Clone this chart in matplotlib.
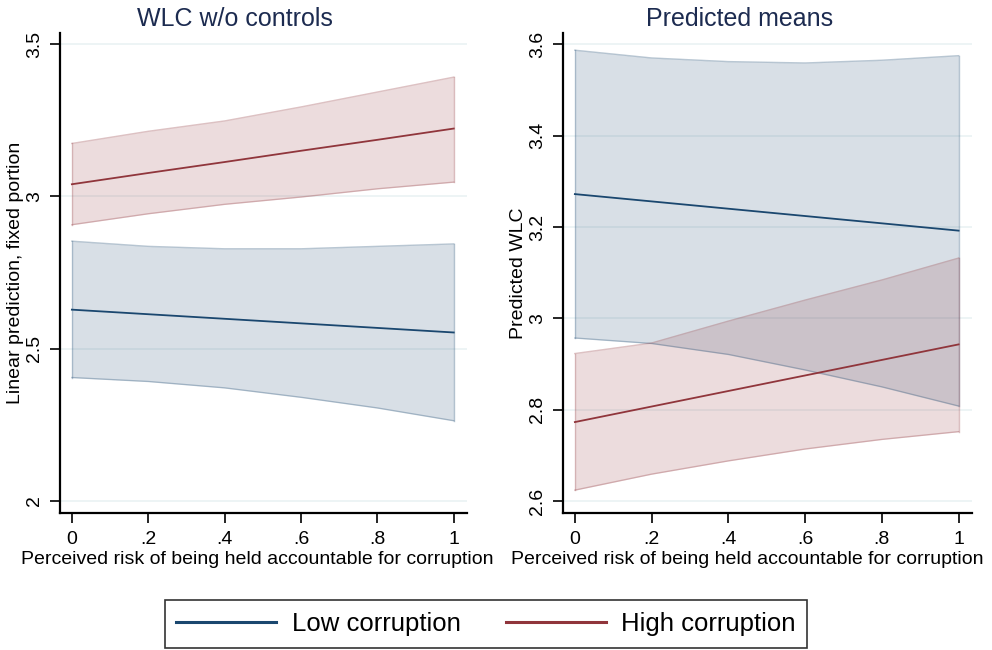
import matplotlib
matplotlib.use("Agg")
import matplotlib.pyplot as plt
from matplotlib.lines import Line2D
import matplotlib.ticker as ticker

plt.rcParams["font.family"] = ["Liberation Sans", "DejaVu Sans"]

# risk grid
risk = [0, 0.2, 0.4, 0.6, 0.8, 1.0]

# left panel: WLC w/o controls (linear prediction, fixed portion)
low_fit_l = [2.628, 2.613, 2.598, 2.583, 2.568, 2.553]
low_lo_l = [2.405, 2.392, 2.371, 2.340, 2.305, 2.263]
low_hi_l = [2.853, 2.836, 2.828, 2.828, 2.836, 2.844]
high_fit_l = [3.040, 3.077, 3.113, 3.150, 3.186, 3.223]
high_lo_l = [2.907, 2.943, 2.974, 2.998, 3.025, 3.047]
high_hi_l = [3.174, 3.214, 3.248, 3.294, 3.343, 3.392]

# right panel: predicted means
low_fit_r = [3.272, 3.256, 3.240, 3.224, 3.208, 3.192]
low_lo_r = [2.957, 2.945, 2.921, 2.887, 2.850, 2.808]
low_hi_r = [3.587, 3.570, 3.562, 3.559, 3.565, 3.575]
high_fit_r = [2.773, 2.807, 2.841, 2.875, 2.909, 2.943]
high_lo_r = [2.624, 2.659, 2.688, 2.714, 2.735, 2.752]
high_hi_r = [2.923, 2.946, 2.994, 3.040, 3.084, 3.132]

x_ticks = [0, 0.2, 0.4, 0.6, 0.8, 1.0]
x_tick_labels = ["0", ".2", ".4", ".6", ".8", "1"]

BLUE = "#1a476f"
RED = "#90353b"
GRID = "#eaf2f3"
TITLE = "#1c2b50"
XLABEL = "Perceived risk of being held accountable for corruption"


def draw_panel(ax, title, ylabel, yticks, ylim, series, title_x, xlabel_x):
    for fit, lo, hi, col in series:
        ax.fill_between(risk, lo, hi, color=col, alpha=0.17, linewidth=0)
        ax.plot(risk, lo, color=col, alpha=0.3, lw=1)
        ax.plot(risk, hi, color=col, alpha=0.3, lw=1)
        ax.plot([risk[0], risk[0]], [lo[0], hi[0]], color=col, alpha=0.3, lw=1)
        ax.plot([risk[-1], risk[-1]], [lo[-1], hi[-1]], color=col, alpha=0.3, lw=1)
    for fit, lo, hi, col in series:
        ax.plot(risk, fit, color=col, lw=1.3)

    ax.set_xlim(-0.031, 1.034)
    ax.set_ylim(*ylim)
    ax.set_xticks(x_ticks)
    ax.set_xticklabels(x_tick_labels)
    ax.set_yticks(yticks)
    ax.yaxis.set_major_formatter(ticker.FuncFormatter(lambda v, p: f"{v:g}"))
    for lab in ax.get_yticklabels():
        lab.set_rotation(90)
        lab.set_va("center")
    ax.grid(axis="y", color=GRID, lw=1.2)
    ax.set_axisbelow(True)
    for side in ("top", "right"):
        ax.spines[side].set_visible(False)
    for side in ("left", "bottom"):
        ax.spines[side].set_linewidth(1.6)
    ax.tick_params(length=7, width=1.2, labelsize=14)
    ax.tick_params(axis="x", pad=6)
    ax.tick_params(axis="y", pad=5)
    ax.set_title(title, fontsize=18, color=TITLE, pad=5, x=title_x)
    ax.set_xlabel(XLABEL, fontsize=14, labelpad=2, x=xlabel_x)
    ax.set_ylabel(ylabel, fontsize=14, labelpad=2)


fig = plt.figure(figsize=(9.92, 6.5), dpi=100)
ax1 = fig.add_axes([0.0605, 0.2108, 0.410, 0.738])
ax2 = fig.add_axes([0.5675, 0.2108, 0.412, 0.738])

draw_panel(ax1, "WLC w/o controls", "Linear prediction, fixed portion",
           [2, 2.5, 3, 3.5], (1.96, 3.536),
           [(low_fit_l, low_lo_l, low_hi_l, BLUE),
            (high_fit_l, high_lo_l, high_hi_l, RED)], 0.43, 0.486)
draw_panel(ax2, "Predicted means", "Predicted WLC",
           [2.6, 2.8, 3.0, 3.2, 3.4, 3.6], (2.574, 3.624),
           [(low_fit_r, low_lo_r, low_hi_r, BLUE),
            (high_fit_r, high_lo_r, high_hi_r, RED)], 0.433, 0.452)

handles = [Line2D([], [], color=BLUE, lw=2.2),
           Line2D([], [], color=RED, lw=2.2)]
leg = fig.legend(handles, ["Low corruption", "High corruption"], ncol=2,
                 loc="center", bbox_to_anchor=(0.49, 0.04), fontsize=18.5,
                 frameon=True, fancybox=False, handlelength=3.9,
                 columnspacing=1.75, borderpad=0.45, borderaxespad=0,
                 handletextpad=0.6)
leg.get_frame().set_edgecolor("black")
leg.get_frame().set_linewidth(1.2)

fig.savefig("out.png", dpi=100, facecolor="white")
